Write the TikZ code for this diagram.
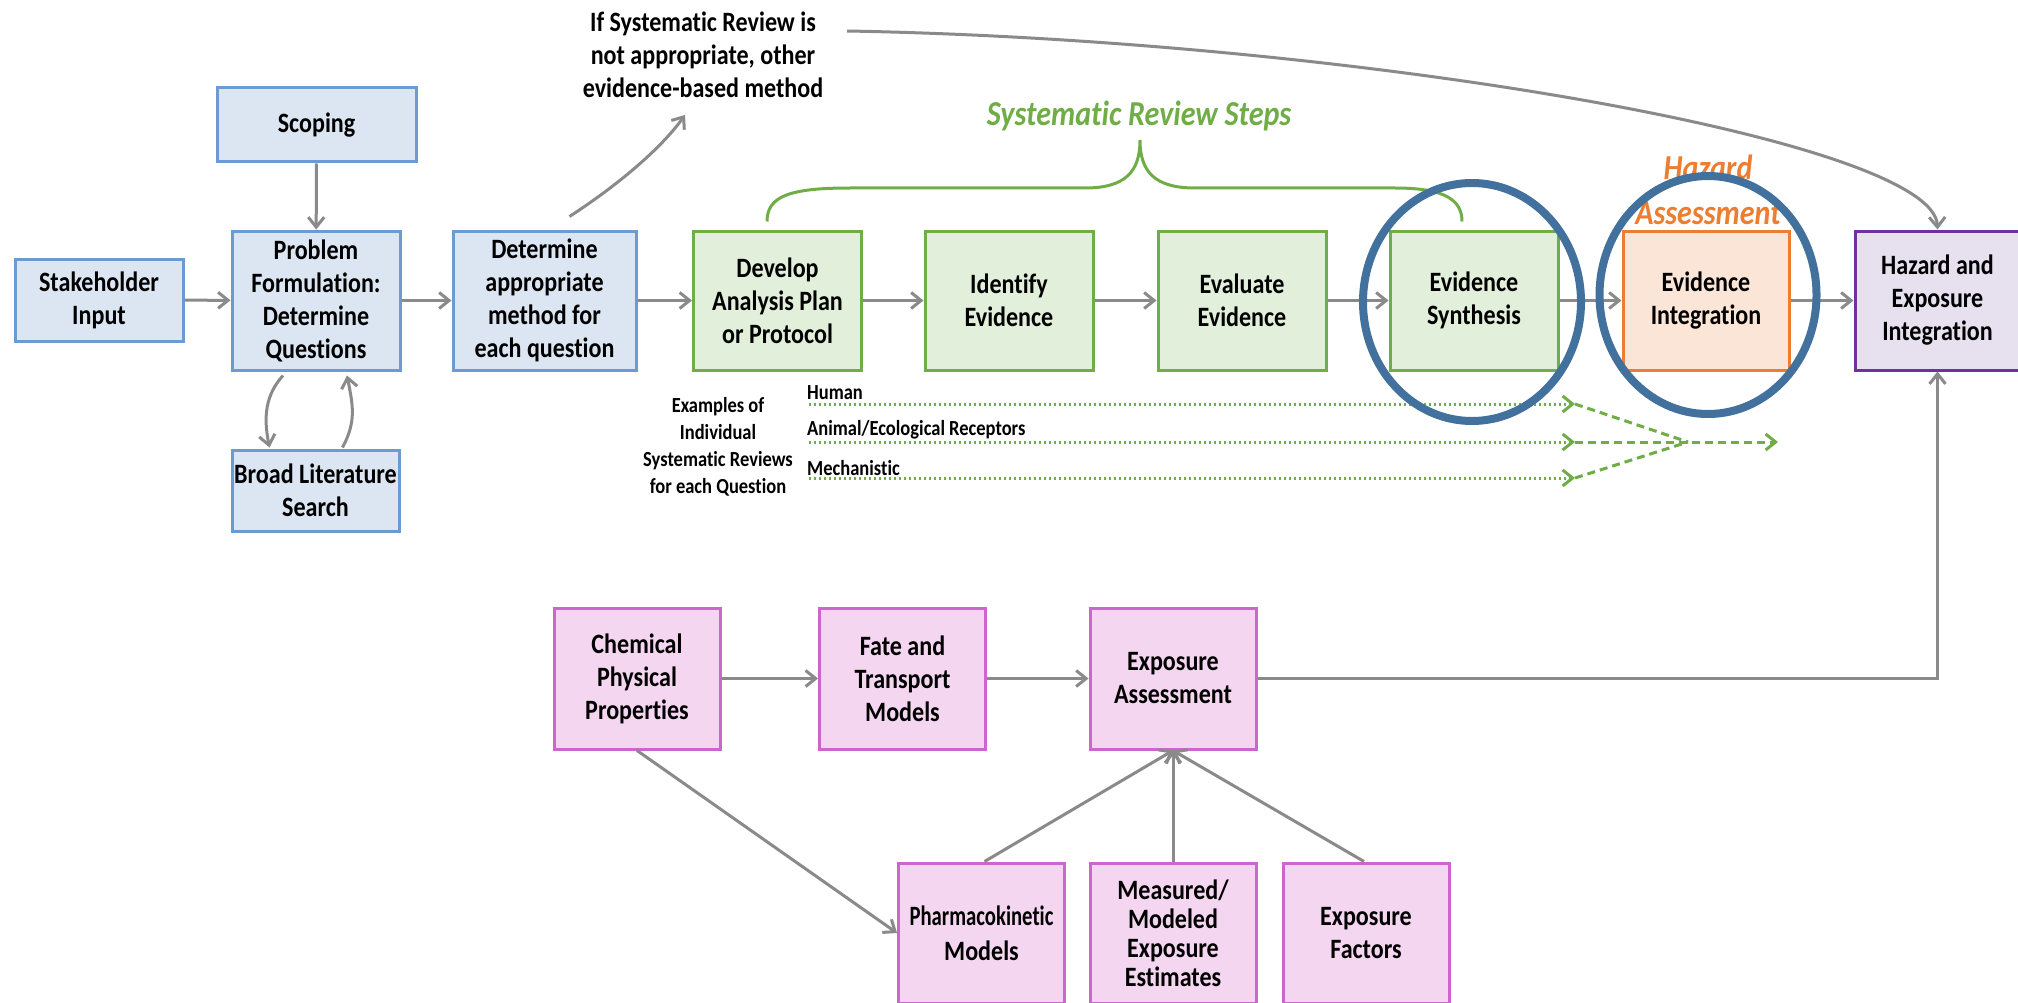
\documentclass[tikz,border=0pt]{standalone}
\usepackage{fontspec}
\setmainfont{Carlito}[FakeStretch=0.86, Ligatures=NoCommon]
\usetikzlibrary{arrows.meta,calc,shapes.geometric}

\definecolor{bfill}{HTML}{DCE6F2}
\definecolor{bline}{HTML}{6C9BD2}
\definecolor{gfill}{HTML}{E2EFDA}
\definecolor{gline}{HTML}{70AD47}
\definecolor{ofill}{HTML}{FBE5D6}
\definecolor{oline}{HTML}{ED7D31}
\definecolor{pfill}{HTML}{E6E0EF}
\definecolor{pline}{HTML}{7030A0}
\definecolor{mfill}{HTML}{F4D6F0}
\definecolor{mline}{HTML}{CC66CC}
\definecolor{ringcol}{HTML}{41719C}
\definecolor{conncol}{HTML}{8A8A8A}

\tikzset{
  box/.style={draw, line width=3pt, inner sep=0pt, align=center,
    font=\bfseries\fontsize{28}{33}\selectfont},
  bluebox/.style={box, fill=bfill, draw=bline},
  greenbox/.style={box, fill=gfill, draw=gline, minimum width=168pt, minimum height=139pt},
  orangebox/.style={box, fill=ofill, draw=oline, minimum width=166pt, minimum height=139pt},
  purplebox/.style={box, fill=pfill, draw=pline, minimum width=165pt, minimum height=139pt},
  pinkbox/.style={box, fill=mfill, draw=mline, minimum width=166pt, minimum height=141pt},
  conn/.style={draw=conncol, line width=3pt, -{Straight Barb[length=10pt,width=16pt]}},
  dotline/.style={draw=gline, line width=3pt, dash pattern=on 2pt off 3pt,
    -{Straight Barb[length=10pt,width=16pt]}},
  dashline/.style={draw=gline, line width=3pt, dash pattern=on 8pt off 5pt},
  note/.style={align=center, inner sep=0pt, font=\bfseries\fontsize{28}{33}\selectfont},
  small/.style={inner sep=0pt, font=\bfseries\fontsize{21.5}{27}\selectfont},
  headline/.style={inner sep=0pt, font=\bfseries\itshape\fontsize{35}{40}\selectfont},
  ring/.style={draw=ringcol, line width=8pt, ellipse, inner sep=0pt},
}

\begin{document}
\begin{tikzpicture}[x=1pt,y=-1pt]
\fill[white] (0,0) rectangle (2018,1003);
\useasboundingbox (0,0) rectangle (2018,1003);

% upper row: framing the questions
\node[bluebox, minimum width=199pt, minimum height=74pt] (scoping) at (316.5,125) {Scoping};
\node[bluebox, minimum width=168pt, minimum height=82pt] (stake) at (99,300) {Stakeholder\\Input};
\node[bluebox, minimum width=168pt, minimum height=139pt] (problem) at (316,300.5) {Problem\\Formulation:\\Determine\\Questions};
\node[bluebox, minimum width=167pt, minimum height=81pt] (broad) at (315.5,490.5) {Broad Literature\\Search};
\node[bluebox, minimum width=183pt, minimum height=139pt] (determine) at (544.5,300.5) {Determine\\appropriate\\method for\\each question};

% systematic review steps
\node[greenbox] (develop) at (777.5,300.5) {Develop\\Analysis Plan\\or Protocol};
\node[greenbox] (identify) at (1009,300.5) {Identify\\Evidence};
\node[greenbox] (evaluate) at (1242,300.5) {Evaluate\\Evidence};
\node[greenbox] (synthesis) at (1474,300.5) {Evidence\\Synthesis};
\node[orangebox] (integration) at (1706,300.5) {Evidence\\Integration};
\node[purplebox] (hazexp) at (1937.5,300.5) {Hazard and\\Exposure\\Integration};

% exposure side
\node[pinkbox] (chem) at (637,678.5) {Chemical\\Physical\\Properties};
\node[pinkbox] (fate) at (902.5,678.5) {Fate and\\Transport\\Models};
\node[pinkbox] (expa) at (1173,678.5) {Exposure\\Assessment};
\node[pinkbox, minimum height=140pt] (pharma) at (981.5,933) {\scalebox{0.86}[1]{Pharmacokinetic}\\[2pt]Models};
\node[pinkbox, minimum height=140pt, font=\bfseries\fontsize{28}{29}\selectfont] (measured) at (1173,933) {Measured/\\Modeled\\Exposure\\Estimates};
\node[pinkbox, minimum height=140pt] (factors) at (1366,933) {Exposure\\Factors};

% labels
\node[note] (alt) at (703,55) {If Systematic Review is\\not appropriate, other\\evidence-based method};
\node[headline, text=gline] (srsteps) at (1139,116) {Systematic Review Steps};
\node[headline, text=oline] (haz1) at (1708,167) {Hazard};
\node[headline, text=oline] (haz2) at (1708,213) {Assessment};
\node[small, align=center] (examples) at (718,447) {Examples of\\Individual\\Systematic Reviews\\for each Question};
\node[small, anchor=west] (human) at (807,393) {Human};
\node[small, anchor=west] (animal) at (807,430) {Animal/Ecological Receptors};
\node[small, anchor=west] (mech) at (807,468) {Mechanistic};

% main flow
\draw[conn] (stake) -- (problem);
\draw[conn] (scoping) -- (problem);
\draw[conn] (problem) -- (determine);
\draw[conn] (determine) -- (develop);
\draw[conn] (develop) -- (identify);
\draw[conn] (identify) -- (evaluate);
\draw[conn] (evaluate) -- (synthesis);
\draw[conn] (synthesis) -- (integration);
\draw[conn] (integration) -- (hazexp);

% literature search loop
\draw[conn] ($(problem.south)+(-33,4)$) .. controls +(-18,20) and +(-6,-30) .. ($(broad.north)+(-46,-1)$);
\draw[conn] ($(broad.north)+(27,-1)$) .. controls +(14,-26) and +(6,30) .. ($(problem.south)+(31,4)$);

% alternative route and bypass to the integration step
\coordinate (altstart) at ($(determine.north)+(25,-13)$);
\coordinate (altend) at (685,115);
\draw[conn] (altstart) .. controls (615,187) and (660,150) .. (altend);
\coordinate (bypass) at (847,31);
\draw[conn] (bypass) .. controls (1350,40) and (1935,140) .. (hazexp.north);

% brace over the review steps
\draw[draw=gline, line width=3pt]
  ($(develop.north)+(-10.5,-8)$) .. controls (767,196) and (790,188) .. (850,188)
  -- (1085,188) .. controls (1125,188) and (1140,172) .. (1140,140)
  .. controls (1140,172) and (1155,188) .. (1195,188)
  -- (1395,188) .. controls (1445,188) and (1462,200) .. ($(synthesis.north)+(-12,-8)$);

% individual reviews feeding the integration
\coordinate (h0) at (809,404);
\coordinate (h1) at (1575,404);
\coordinate (a0) at (809,442);
\coordinate (a1) at (1575,442);
\coordinate (m0) at (809,478);
\coordinate (m1) at (1575,478);
\coordinate (merge) at (1688,442);
\coordinate (mergeend) at (1778,442);
\draw[dotline] (h0) -- (h1);
\draw[dotline] (a0) -- (a1);
\draw[dotline] (m0) -- (m1);
\draw[dashline] (h1) -- (merge);
\draw[dashline] (m1) -- (merge);
\draw[dashline, -{Straight Barb[length=10pt,width=16pt]}] (a1) -- (mergeend);

% exposure connectors
\draw[conn] (chem) -- (fate);
\draw[conn] (fate) -- (expa);
\draw[conn] (expa.east) -| (hazexp.south);
\draw[conn] (chem.south) -- (pharma.west);
\draw[conn] ($(pharma.north)+(3,0)$) -- (expa.south);
\draw[conn] (measured) -- (expa);
\draw[conn] ($(factors.north)+(-2,0)$) -- (expa.south);

% highlight rings
\node[ring, minimum width=218pt, minimum height=238pt] (ring1) at (1472,302) {};
\node[ring, minimum width=217pt, minimum height=238pt] (ring2) at (1708,295) {};
\end{tikzpicture}
\end{document}
